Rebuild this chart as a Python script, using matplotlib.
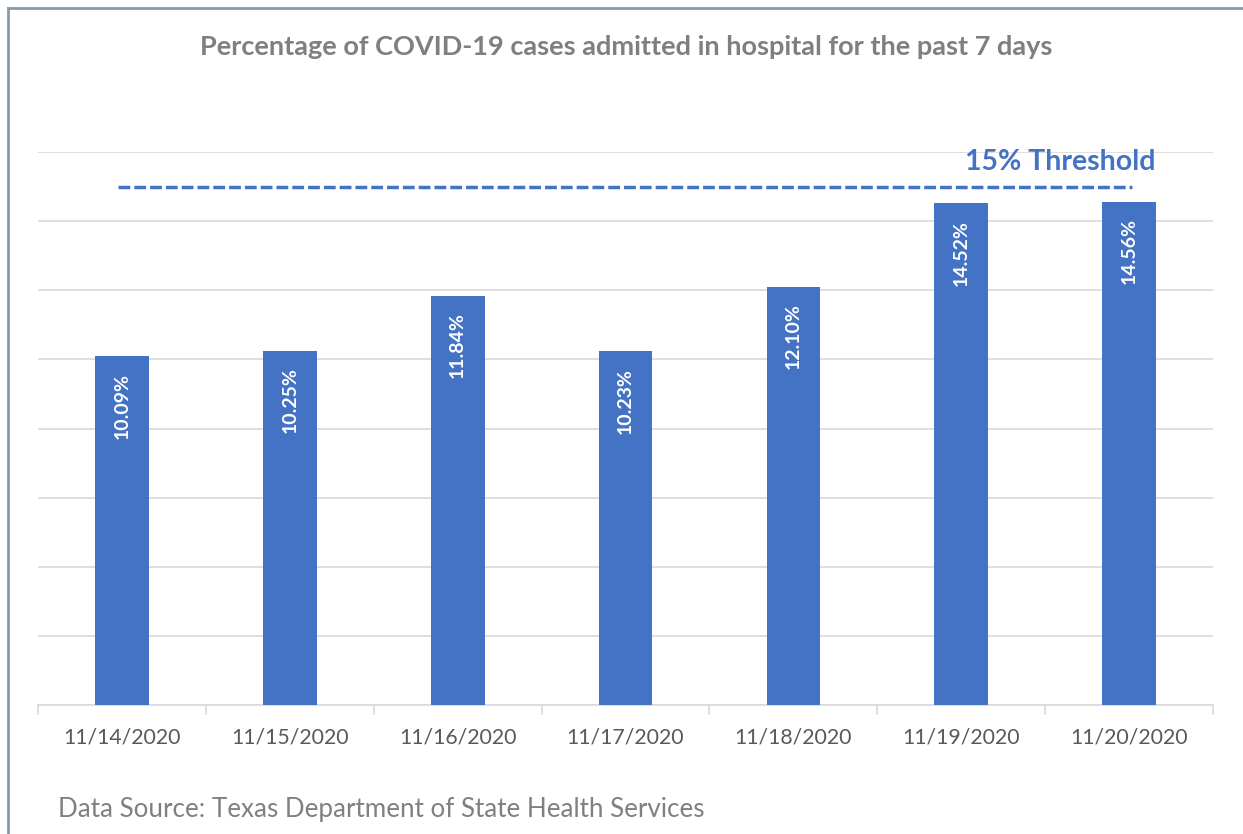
import matplotlib
matplotlib.use("Agg")
import matplotlib.pyplot as plt
from matplotlib.lines import Line2D

# Datos
fechas = ["11/14/2020", "11/15/2020", "11/16/2020", "11/17/2020",
          "11/18/2020", "11/19/2020", "11/20/2020"]
porcentajes = [10.09, 10.25, 11.84, 10.23, 12.10, 14.52, 14.56]
umbral = 15

plt.rcParams["font.family"] = ["Lato", "DejaVu Sans"]

fig = plt.figure(figsize=(12.43, 8.34), dpi=100)
ax = fig.add_axes([38 / 1243, 1 - 705 / 834, 1175 / 1243, 553 / 834])

azul = "#4472C4"
x = range(len(fechas))

ax.bar(x, porcentajes, width=0.32, color=azul, zorder=3)

# Etiquetas dentro de las barras
for i, v in zip(x, porcentajes):
    ax.annotate(
        f"{v:.2f}%",
        xy=(i, v),
        xytext=(0, -12),
        textcoords="offset points",
        rotation=90,
        ha="center",
        va="top",
        color="white",
        fontsize=14,
        fontweight="bold",
        zorder=4
    )

# Linea de umbral
ax.plot([-0.025, 6.02], [umbral, umbral], color=azul, linestyle=(0, (3.4, 1.15)),
        linewidth=2.5, zorder=4)
ax.text(5.59, 15.72, f"{umbral}% Threshold", color=azul, fontsize=20.5,
        fontweight="bold", ha="center", va="center")

# Ejes
ax.set_xlim(-0.5, 6.5)
ax.set_ylim(0, 16)
ax.set_yticks(range(0, 17, 2))
ax.yaxis.grid(True, color="#d9d9d9", linewidth=1.2, zorder=0)
ax.tick_params(axis="y", left=False, labelleft=False)
for s in ["top", "right", "left"]:
    ax.spines[s].set_visible(False)
ax.spines["bottom"].set_color("#d9d9d9")
ax.spines["bottom"].set_linewidth(1.2)

ax.set_xticks(x)
ax.set_xticklabels(fechas, fontsize=15.3, color="#595959")
ax.set_xticks([i - 0.5 for i in range(len(fechas) + 1)], minor=True)
ax.tick_params(axis="x", which="major", length=0, pad=16)
ax.tick_params(axis="x", which="minor", length=7, color="#d9d9d9", width=1.2)

# Titulo y fuente
fig.text(626 / 1243, 1 - 47 / 834,
         "Percentage of COVID-19 cases admitted in hospital for the past 7 days",
         ha="center", va="center", fontsize=19.5, fontweight="bold",
         color="#7f7f7f")
fig.text(58 / 1243, 1 - 809 / 834,
         "Data Source: Texas Department of State Health Services",
         ha="left", va="center", fontsize=18.7, color="#808080")

# Marco del grafico
borde = "#8a98ad"
fig.add_artist(Line2D([8 / 1243, 8 / 1243], [0, 1 - 8 / 834],
                      color=borde, linewidth=2))
fig.add_artist(Line2D([8 / 1243, 1], [1 - 8 / 834, 1 - 8 / 834],
                      color=borde, linewidth=2))

fig.savefig("out.png", dpi=100)
